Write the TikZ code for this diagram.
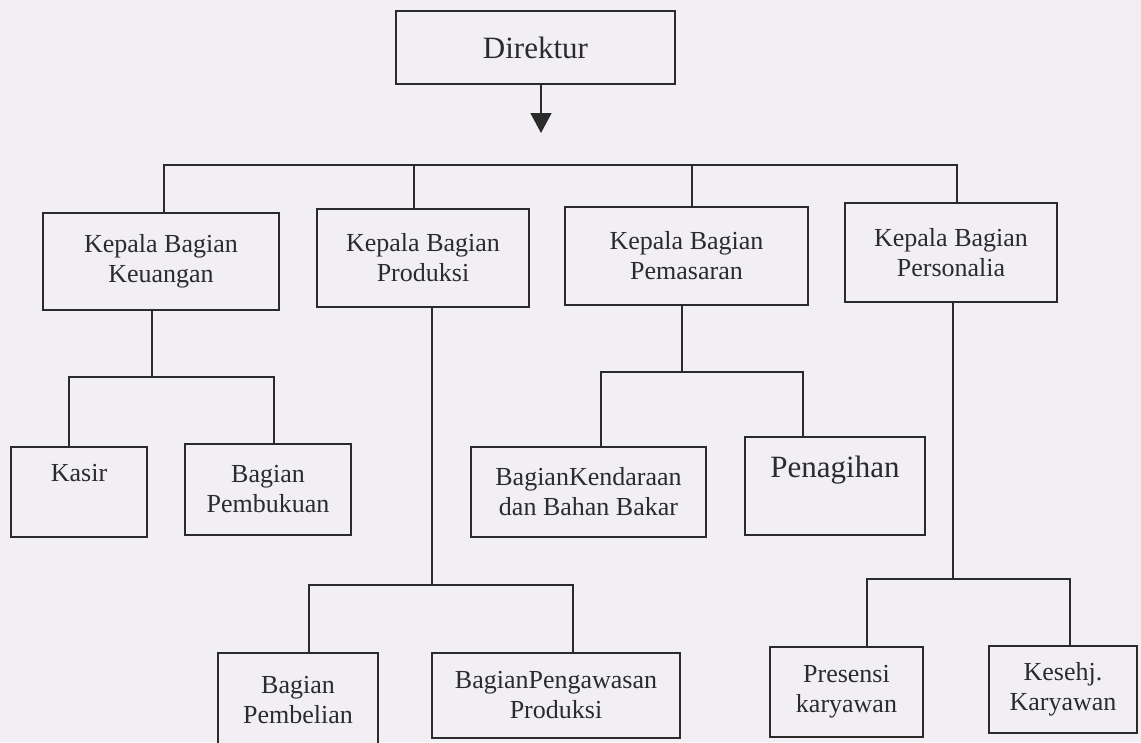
\documentclass[tikz,border=0pt]{standalone}
\usepackage{fontspec}
\setmainfont{Liberation Serif}
\definecolor{paper}{HTML}{F1EFF3}
\definecolor{ink}{HTML}{2B2B2B}
\usepackage{tikz}
\usetikzlibrary{positioning, arrows.meta, calc}

\begin{document}
\begin{tikzpicture}[x=1pt, y=-1pt, line width=1.7pt, color=ink,
    every node/.style={font=\fontsize{26}{30}\selectfont, align=center, text=ink},
    unitbox/.style={draw=ink, fill=paper, inner sep=0pt}]
                    \clip (0,0) rectangle (1141,742);
                    \fill[paper] (0,0) rectangle (1141,742);

                    \node[unitbox, minimum width=279pt, minimum height=73pt, font=\fontsize{31}{36}\selectfont] (dir) at (535.5,47.5) {Direktur};

                    \node[unitbox, minimum width=236pt, minimum height=97pt] (keu) at (161,261.5) {Kepala Bagian\\ Keuangan};
                    \node[unitbox, minimum width=212pt, minimum height=98pt] (prod) at (423,258) {Kepala Bagian\\ Produksi};
                    \node[unitbox, minimum width=243pt, minimum height=98pt] (pem) at (686.5,256) {Kepala Bagian\\ Pemasaran};
                    \node[unitbox, minimum width=212pt, minimum height=99pt] (pers) at (951,252.5) {Kepala Bagian\\ Personalia};

                    \node[unitbox, minimum width=136pt, minimum height=90pt] (kasir) at (79,492) {Kasir\\ \strut};
                    \node[unitbox, minimum width=166pt, minimum height=91pt] (pembuk) at (268,489.5) {Bagian\\ Pembukuan};
                    \node[unitbox, minimum width=235pt, minimum height=90pt] (kend) at (588.5,492) {BagianKendaraan\\ dan Bahan Bakar};
                    \node[unitbox, minimum width=180pt, minimum height=98pt, font=\fontsize{31}{30}\selectfont] (penag) at (835,486) {Penagihan\\ \strut};

                    \node[unitbox, minimum width=160pt, minimum height=94pt] (pembel) at (298,700) {Bagian\\ Pembelian};
                    \node[unitbox, minimum width=248pt, minimum height=85pt] (pengaw) at (556,695.5) {BagianPengawasan\\ Produksi};
                    \node[unitbox, minimum width=153pt, minimum height=90pt] (pres) at (846.5,692) {Presensi\\ karyawan};
                    \node[unitbox, minimum width=148pt, minimum height=87pt] (kes) at (1063,689.5) {Kesehj.\\ Karyawan};

                    % branch levels
                    \coordinate (arr) at (541,133);
                    \coordinate (top) at (0,165);
                    \coordinate (kb) at (152,377);
                    \coordinate (pb) at (432,585);
                    \coordinate (mb) at (682,372);
                    \coordinate (sb) at (953,579);

                    \draw[-{Triangle[length=20pt, width=21pt]}] ([xshift=5.5pt]dir.south) -- (arr);

                    \draw ([xshift=3pt]keu.north) |- ([xshift=6pt]pers.north |- top) -- ([xshift=6pt]pers.north);
                    \draw ([xshift=-9pt]prod.north) -- ([xshift=-9pt]prod.north |- top);
                    \draw ([xshift=5.5pt]pem.north) -- ([xshift=5.5pt]pem.north |- top);

                    \draw ([xshift=-9pt]keu.south) -- (kb);
                    \draw ([xshift=-10pt]kasir.north) |- (kb) -| ([xshift=6pt]pembuk.north);

                    \draw ([xshift=9pt]prod.south) -- (pb);
                    \draw ([xshift=11pt]pembel.north) |- (pb) -| ([xshift=17pt]pengaw.north);

                    \draw ([xshift=-4.5pt]pem.south) -- (mb);
                    \draw ([xshift=12.5pt]kend.north) |- (mb) -| ([xshift=-32pt]penag.north);

                    \draw ([xshift=2pt]pers.south) -- (sb);
                    \draw ([xshift=20.5pt]pres.north) |- (sb) -| ([xshift=7pt]kes.north);
                \end{tikzpicture}
\end{document}
